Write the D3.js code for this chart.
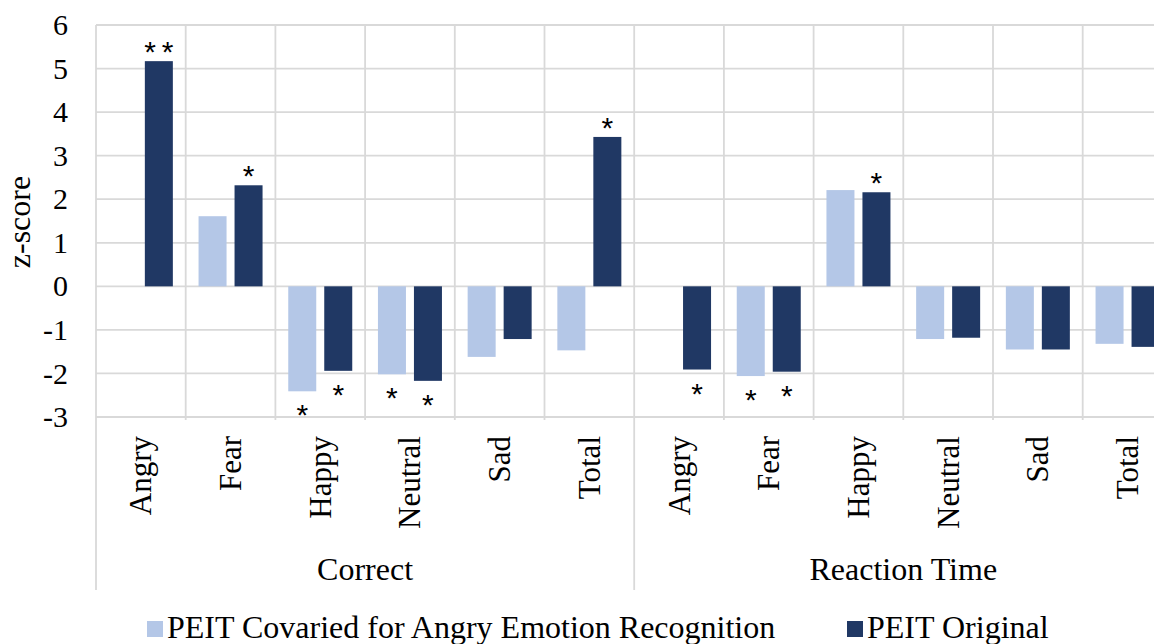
<!DOCTYPE html>
<html>
<head>
<meta charset="utf-8">
<script src="https://cdn.jsdelivr.net/npm/d3@7"></script>
<style>
  body { margin: 0; background: #fff; overflow: hidden; }
</style>
</head>
<body>
<div id="container"></div>
<script>
const width = 1154;
const height = 644;
const serif = "'Liberation Serif'";

// data
const groups = ["Correct", "Reaction Time"];
const emotions = ["Angry", "Fear", "Happy", "Neutral", "Sad", "Total"];
const seriesNames = ["PEIT Covaried for Angry Emotion Recognition", "PEIT Original"];
const seriesColors = ["#b4c7e7", "#203864"];

// covaried (light) - null where no bar is drawn
const covaried = [null, 1.61, -2.41, -2.02, -1.62, -1.47,
                  null, -2.06, 2.21, -1.21, -1.45, -1.32];
const original = [5.17, 2.32, -1.94, -2.17, -1.21, 3.43,
                  -1.91, -1.96, 2.16, -1.18, -1.45, -1.39];
const sigCovaried = ["", "", "*", "*", "", "",
                     "", "*", "", "", "", ""];
const sigOriginal = ["**", "*", "*", "*", "", "*",
                     "*", "*", "*", "", "", ""];
const yTicks = [-3, -2, -1, 0, 1, 2, 3, 4, 5, 6];

const plotLeft = 96, plotTop = 25, plotBottom = 417;
const catStep = 89.7;
const axisBottomEnd = 590;

// one key per category
const keys = [];
groups.forEach(g => emotions.forEach(e => keys.push(g + "|" + e)));

const x0 = d3.scaleBand()
	.domain(keys)
	.range([plotLeft, plotLeft + catStep * keys.length])
	.padding(0);

const x1 = d3.scaleBand()
	.domain(seriesNames)
	.range([0, x0.bandwidth()])
	.paddingInner(0.222)
	.paddingOuter(0.357);

const y = d3.scaleLinear()
	.domain([-3, 6])
	.range([plotBottom, plotTop]);

let svg = d3.select("#container")
	.append("svg")
	.attr("width", width)
	.attr("height", height);

const gridColor = "#d9d9d9";
const xEnd = x0.range()[1];

// horizontal gridlines
svg.append("g").selectAll("line")
	.data(yTicks)
	.enter().append("line")
	.attr("x1", plotLeft)
	.attr("x2", xEnd)
	.attr("y1", d => y(d))
	.attr("y2", d => y(d))
	.attr("stroke", gridColor)
	.attr("stroke-width", 1.8);

// vertical gridlines at category boundaries; group boundaries run down through the labels
const bounds = keys.map(k => x0(k)).concat([xEnd]);
svg.append("g").selectAll("line")
	.data(bounds)
	.enter().append("line")
	.attr("x1", d => d)
	.attr("x2", d => d)
	.attr("y1", plotTop)
	.attr("y2", (d, i) => (i % emotions.length === 0) ? axisBottomEnd : plotBottom + 3)
	.attr("stroke", gridColor)
	.attr("stroke-width", 1.8);

// y axis labels
const yAxis = d3.axisLeft(y)
	.tickValues(yTicks)
	.tickSize(0)
	.tickPadding(28)
	.tickFormat(d => String(d));

svg.append("g")
	.attr("transform", "translate(" + plotLeft + ",0)")
	.call(yAxis)
	.attr("font-family", "Liberation Serif")
	.attr("font-size", 30)
	.call(g => g.select(".domain").remove())
	.selectAll("text")
	.style("font-family", serif)
	.attr("fill", "#000");

svg.append("text")
	.attr("transform", "translate(30," + 222 + ") rotate(-90)")
	.attr("text-anchor", "middle")
	.attr("font-family", "Liberation Serif")
	.style("font-family", serif)
	.style("font-size", "32px")
	.text("z-score");

// bars
const rows = keys.map((k, i) => ({
	key: k,
	values: [
		{ s: seriesNames[0], v: covaried[i], sig: sigCovaried[i], c: seriesColors[0] },
		{ s: seriesNames[1], v: original[i], sig: sigOriginal[i], c: seriesColors[1] }
	]
}));

const cat = svg.append("g").selectAll("g")
	.data(rows)
	.enter().append("g")
	.attr("transform", d => "translate(" + x0(d.key) + ",0)");

cat.selectAll("rect")
	.data(d => d.values.filter(v => v.v !== null))
	.enter().append("rect")
	.attr("x", d => x1(d.s))
	.attr("width", x1.bandwidth())
	.attr("y", d => y(Math.max(0, d.v)))
	.attr("height", d => Math.abs(y(d.v) - y(0)))
	.attr("fill", d => d.c);

// significance stars (glyph centre sits ~17px above the baseline)
cat.selectAll("text.sig")
	.data(d => d.values.filter(v => v.sig !== ""))
	.enter().append("text")
	.attr("class", "sig")
	.attr("x", d => x1(d.s) + x1.bandwidth() / 2)
	.attr("dx", d => d.sig.length > 1 ? 3 : 0)
	.attr("y", d => d.v >= 0 ? y(d.v) - 16 + 17 : y(d.v) + 17 + 17)
	.attr("text-anchor", "middle")
	.attr("font-family", "Liberation Sans")
	.style("font-size", "30px")
	.style("letter-spacing", d => d.sig.length > 1 ? "6px" : "0px")
	.text(d => d.sig);

// category labels (rotated)
const xAxis = d3.axisBottom(x0)
	.tickSize(0)
	.tickFormat(k => k.split("|")[1]);

svg.append("g")
	.attr("transform", "translate(0," + plotBottom + ")")
	.call(xAxis)
	.attr("font-family", "Liberation Serif")
	.attr("font-size", 31)
	.call(g => g.select(".domain").remove())
	.selectAll("text")
	.style("font-family", serif)
	.attr("fill", "#000")
	.attr("text-anchor", "end")
	.attr("dy", null)
	.attr("y", 0)
	.attr("dominant-baseline", "central")
	.attr("transform", "translate(0,19) rotate(-90)");

// group labels
svg.append("g").selectAll("text")
	.data(groups)
	.enter().append("text")
	.attr("x", g => (x0(g + "|" + emotions[0]) + x0(g + "|" + emotions[emotions.length - 1]) + x0.bandwidth()) / 2)
	.attr("y", 580)
	.attr("text-anchor", "middle")
	.attr("font-family", "Liberation Serif")
	.style("font-family", serif)
	.style("font-size", "32px")
	.text(g => g);

// legend
const legendX = [147, 847];
const legend = svg.append("g").selectAll("g")
	.data(seriesNames)
	.enter().append("g")
	.attr("transform", (d, i) => "translate(" + legendX[i] + ",621)");

legend.append("rect")
	.attr("width", 16)
	.attr("height", 16)
	.attr("fill", (d, i) => seriesColors[i]);

legend.append("text")
	.attr("x", 20)
	.attr("y", 17)
	.attr("font-family", "Liberation Serif")
	.style("font-family", serif)
	.style("font-size", "32px")
	.text(d => d);
</script>
</body>
</html>
